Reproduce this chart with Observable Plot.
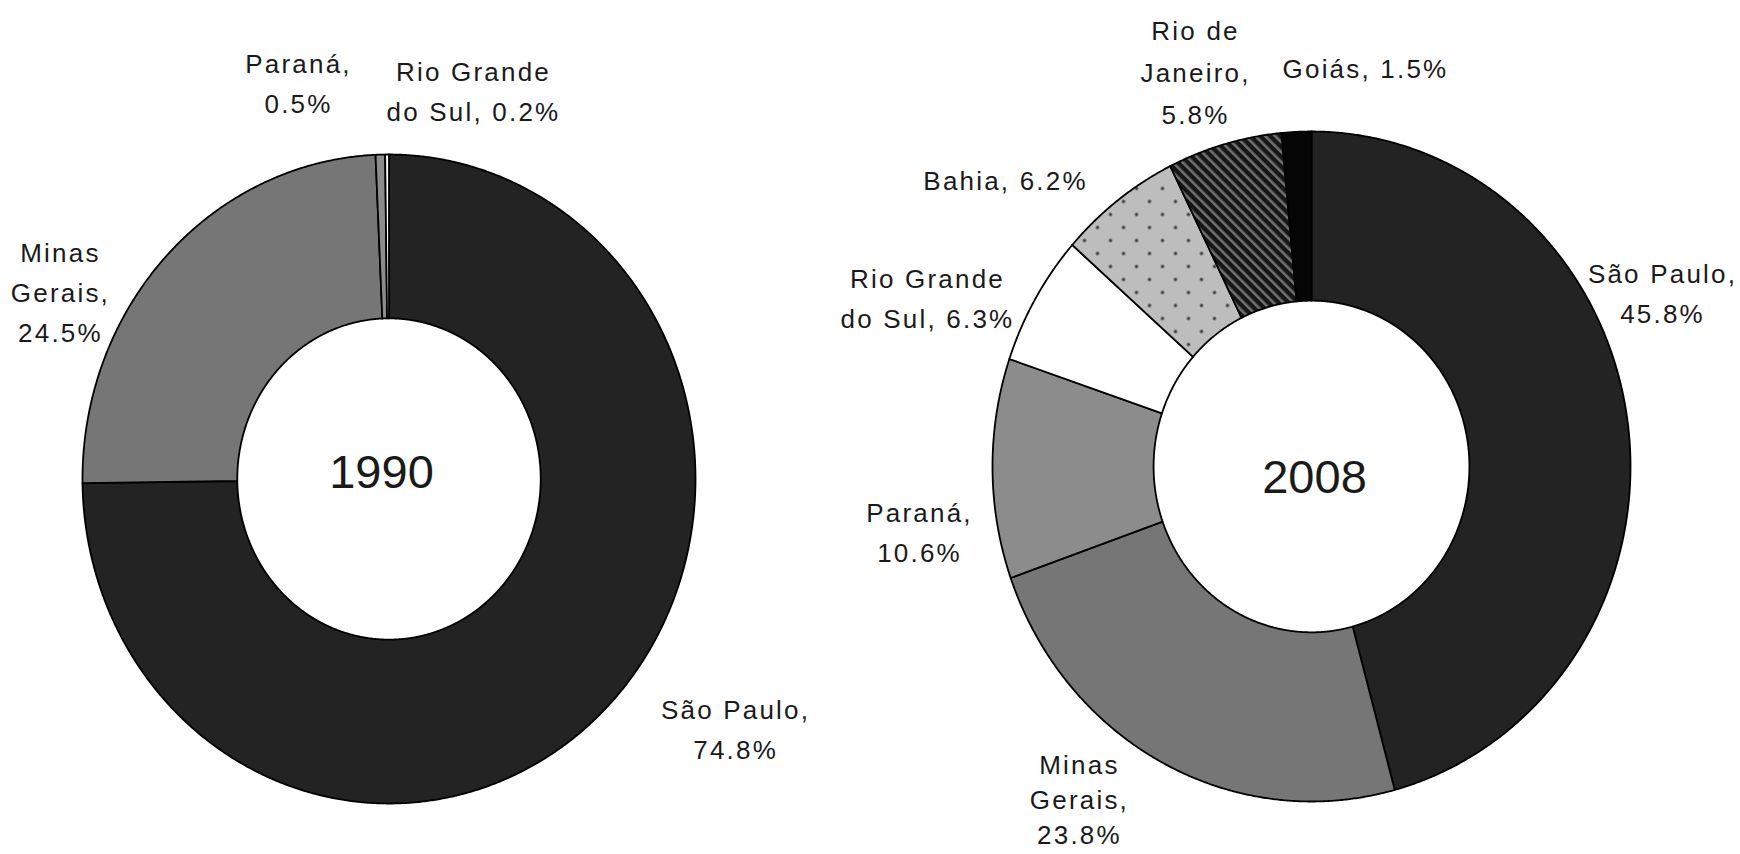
<!DOCTYPE html>
<html>
<head>
<meta charset="utf-8">
<script src="https://cdn.jsdelivr.net/npm/d3@7"></script>
<script src="https://cdn.jsdelivr.net/npm/@observablehq/plot@0.6"></script>
<style>
  html, body { margin: 0; padding: 0; background: #fff; overflow: hidden; }
  #wrap { display: flex; width: 1740px; height: 854px; }
  #wrap svg { display: block; max-width: none; flex: none; }
</style>
</head>
<body>
<div id="wrap"></div>
<script>
// ---------------- DATA ----------------
const years = ["1990", "2008"];
const states1990 = ["São Paulo", "Minas Gerais", "Paraná", "Rio Grande do Sul"];
const shares1990 = [74.8, 24.5, 0.5, 0.2];
const states2008 = ["São Paulo", "Minas Gerais", "Paraná", "Rio Grande do Sul", "Bahia", "Rio de Janeiro", "Goiás"];
const shares2008 = [45.8, 23.8, 10.6, 6.3, 6.2, 5.8, 1.5];

// ---------------- STYLE / LAYOUT ----------------
const stateFills = {
  "São Paulo": "#232323",
  "Minas Gerais": "#767676",
  "Paraná": "#8c8c8c",
  "Rio Grande do Sul": "#ffffff",
  "Bahia": "url(#dotsPattern)",
  "Rio de Janeiro": "url(#stripesPattern)",
  "Goiás": "#050505"
};
const innerRatio = 0.495;
const labelFont = 26, labelSpacing = 2.2;
const layout = {
  "1990": {
    xRange: [82, 695], yRange: [803, 154], yearNudge: [-7.5, -6.5],
    labels: {
      "São Paulo": {breaks: [1], dx: 128.5, dy: 52.4, lh: 40},
      "Minas Gerais": {breaks: [0, 1], dx: -105.8, dy: 85.4, lh: 40},
      "Paraná": {breaks: [0], dx: -81.8, dy: -42.1, lh: 40},
      "Rio Grande do Sul": {breaks: [1], dx: 86.4, dy: -34, lh: 40}
    }
  },
  "2008": {
    xRange: [122, 760], yRange: [801, 131], yearNudge: [3, 11],
    labels: {
      "São Paulo": {breaks: [1], dx: 34.8, dy: -99.9, lh: 40},
      "Minas Gerais": {breaks: [0, 1], dx: -83.7, dy: 81.4, lh: 35},
      "Paraná": {breaks: [0], dx: -73, dy: 92.9, lh: 40},
      "Rio Grande do Sul": {breaks: [1], dx: -107.9, dy: 29.8, lh: 40},
      "Bahia": {breaks: [], dx: -112, dy: -11, lh: 40},
      "Rio de Janeiro": {breaks: [1, 2], dx: -28.9, dy: -20.7, lh: 42},
      "Goiás": {breaks: [], dx: 69, dy: -53.4, lh: 40}
    }
  }
};

// ---------------- GEOMETRY FROM DATA ----------------
function buildSlices(states, shares) {
  const arcs = d3.pie().sort(null).value(d => d)(shares);
  const rings = [];
  const mids = [];
  arcs.forEach((a, i) => {
    const state = states[i];
    const n = Math.max(2, Math.ceil((a.endAngle - a.startAngle) / 0.005));
    const pts = [];
    for (let k = 0; k <= n; k++) {
      const t = a.startAngle + (a.endAngle - a.startAngle) * k / n;
      pts.push({state, x: Math.sin(t), y: Math.cos(t), fill: stateFills[state]});
    }
    for (let k = n; k >= 0; k--) {
      const t = a.startAngle + (a.endAngle - a.startAngle) * k / n;
      pts.push({state, x: innerRatio * Math.sin(t), y: innerRatio * Math.cos(t), fill: stateFills[state]});
    }
    pts.push({...pts[0]});
    rings.push(...pts);
    const m = (a.startAngle + a.endAngle) / 2;
    mids.push({state, value: shares[i], x: Math.sin(m), y: Math.cos(m)});
  });
  return {rings, mids};
}

function labelText(state, value, breaks) {
  const words = `${state}, ${value.toFixed(1)}%`.split(" ");
  return words.map((w, i) => w + (i < words.length - 1 ? (breaks.includes(i) ? "\n" : " ") : "")).join("");
}

function donut(year, states, shares) {
  const L = layout[year];
  const {rings, mids} = buildSlices(states, shares);
  const labelMarks = mids.map(m => {
    const cfg = L.labels[m.state];
    return Plot.text([m], {
      x: "x", y: "y",
      text: d => labelText(d.state, d.value, cfg.breaks),
      dx: cfg.dx, dy: cfg.dy,
      textAnchor: "middle", lineAnchor: "bottom",
      lineHeight: cfg.lh / labelFont,
      fontSize: labelFont,
      fontFamily: "Liberation Sans, Arial, sans-serif",
      fill: "#1a1a1a"
    });
  });
  const svg = Plot.plot({
    width: 870, height: 854,
    margin: 0,
    x: {domain: [-1, 1], range: L.xRange, axis: null},
    y: {domain: [-1, 1], range: L.yRange, axis: null},
    color: {type: "identity"},
    style: {background: "#fff", overflow: "visible"},
    marks: [
      Plot.line(rings, {x: "x", y: "y", z: "state", fill: "fill", stroke: "#000", strokeWidth: 1.8, strokeLinejoin: "round"}),
      Plot.text([year], {
        x: () => 0, y: () => 0, text: d => d,
        dx: L.yearNudge[0], dy: L.yearNudge[1],
        fontSize: 47, fontFamily: "Liberation Sans, Arial, sans-serif",
        textAnchor: "middle", lineAnchor: "middle", fill: "#1a1a1a"
      }),
      ...labelMarks
    ]
  });
  d3.select(svg).selectAll(`g[aria-label="text"][font-size="${labelFont}"]`)
    .attr("letter-spacing", labelSpacing);
  return svg;
}

const wrap = document.getElementById("wrap");
const svg1 = donut(years[0], states1990, shares1990);
const svg2 = donut(years[1], states2008, shares2008);

// patterns for hatched / dotted slices
const defs = d3.select(svg2).insert("defs", ":first-child");
const dots = defs.append("pattern").attr("id", "dotsPattern")
  .attr("patternUnits", "userSpaceOnUse").attr("width", 26).attr("height", 26);
dots.append("rect").attr("width", 26).attr("height", 26).attr("fill", "#bdbdbd");
dots.append("circle").attr("cx", 6).attr("cy", 6).attr("r", 1.7).attr("fill", "#3a3a3a");
dots.append("circle").attr("cx", 19).attr("cy", 19).attr("r", 1.7).attr("fill", "#3a3a3a");
const stripes = defs.append("pattern").attr("id", "stripesPattern")
  .attr("patternUnits", "userSpaceOnUse").attr("width", 7).attr("height", 7)
  .attr("patternTransform", "rotate(-45)");
stripes.append("rect").attr("width", 7).attr("height", 7).attr("fill", "#161616");
stripes.append("rect").attr("width", 2.6).attr("height", 7).attr("fill", "#707070");

wrap.appendChild(svg1);
wrap.appendChild(svg2);
</script>
</body>
</html>
